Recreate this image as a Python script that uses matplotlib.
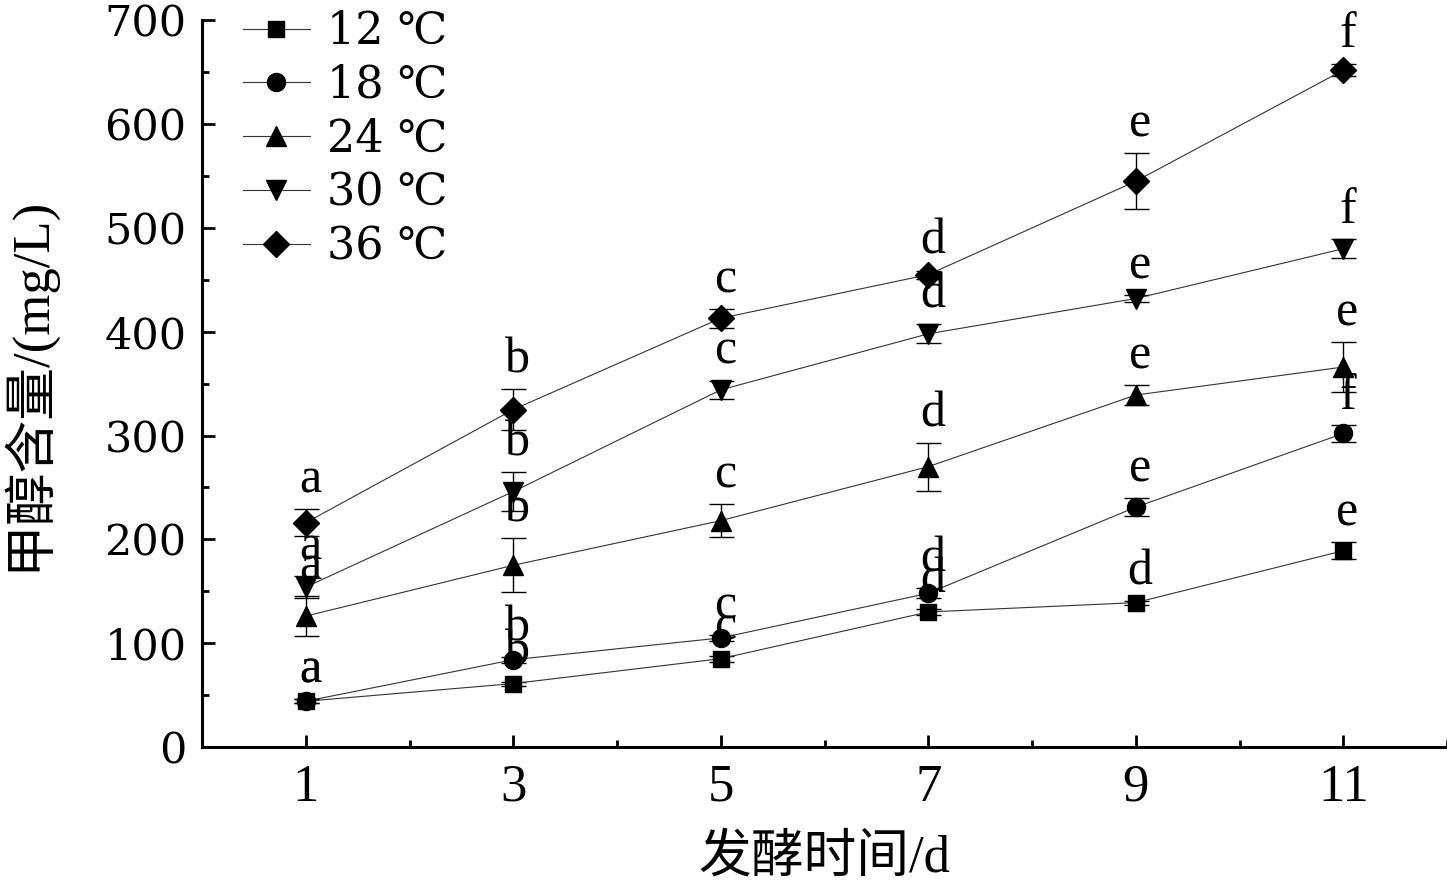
import numpy as np
import matplotlib.pyplot as plt
from matplotlib.ticker import MultipleLocator

# -----------------------------
# Data
# -----------------------------

days = [1, 3, 5, 7, 9, 11]

labels = ["12 ℃", "18 ℃", "24 ℃", "30 ℃", "36 ℃"]
markers = ["s", "o", "^", "v", "D"]
msizes = [12, 13, 15, 15, 13]

t12 = [44, 61, 85, 130, 139, 189]
t18 = [44, 84, 105, 148, 231, 302]
t24 = [126, 175, 218, 270, 339, 366]
t30 = [154, 246, 344, 398, 432, 480]
t36 = [216, 325, 413, 455, 545, 652]

e12 = [2, 2, 3, 3, 2, 8]
e18 = [2, 3, 3, 5, 9, 8]
e24 = [19, 26, 16, 23, 10, 24]
e30 = [11, 19, 9, 9, 3, 9]
e36 = [13, 20, 9, 4, 27, 6]

s12 = ["a", "b", "c", "d", "d", "e"]
s18 = ["a", "b", "c", "d", "e", "f"]
s24 = ["a", "b", "c", "d", "e", "e"]
s30 = ["a", "b", "c", "d", "e", "f"]
s36 = ["a", "b", "c", "d", "e", "f"]

values = [t12, t18, t24, t30, t36]
errors = [e12, e18, e24, e30, e36]
letters = [s12, s18, s24, s30, s36]

# -----------------------------
# Plot
# -----------------------------

serif = ["Liberation Serif", "Noto Sans CJK SC"]
wide = ["DejaVu Serif", "Noto Sans CJK SC"]
plt.rcParams["font.family"] = serif

fig = plt.figure(figsize=(14.47, 8.86), dpi=100)
ax = fig.add_axes([0.1396, 0.157, 0.8604, 0.820])

for y, err, lab, mk, ms in zip(values, errors, labels, markers, msizes):
    ax.errorbar(
        days, y, yerr=err, fmt="none",
        ecolor="black", elinewidth=1.0, capsize=9, capthick=1.0,
    )
    ax.plot(
        days, y, color="#333333", linewidth=0.8,
        marker=mk, markersize=ms,
        markerfacecolor="black", markeredgecolor="black",
        label=lab,
    )

for y, err, sig in zip(values, errors, letters):
    for xi, yi, ei, s in zip(days, y, err, sig):
        ax.annotate(
            s, (xi, yi + ei), xytext=(3, 4), textcoords="offset points",
            ha="center", va="bottom", fontsize=36,
        )

ax.set_xlim(0, 12)
ax.set_ylim(0, 700)
ax.set_xticks(days)
ax.xaxis.set_minor_locator(MultipleLocator(1))
ax.yaxis.set_major_locator(MultipleLocator(100))
ax.yaxis.set_minor_locator(MultipleLocator(50))

for side in ["top", "right"]:
    ax.spines[side].set_visible(False)
for side in ["left", "bottom"]:
    ax.spines[side].set_linewidth(2.2)

ax.tick_params(which="major", direction="in", length=9, width=2.0)
ax.tick_params(which="minor", direction="in", length=5, width=2.0)
ax.tick_params(axis="x", labelsize=38, pad=12)
ax.tick_params(axis="y", pad=11)
for t in ax.get_yticklabels():
    t.set_fontfamily(wide)
    t.set_fontsize(31)

ax.set_xlabel("发酵时间/d", fontsize=38, labelpad=16)
ax.set_ylabel("甲醇含量/(mg/L)", fontsize=38, labelpad=36)

leg = ax.legend(
    loc="upper left", bbox_to_anchor=(0.015, 1.045), frameon=False,
    prop={"family": wide, "size": 32}, handlelength=1.5, handletextpad=0.4,
    labelspacing=0.24, borderpad=0,
)

fig.savefig("out.png", dpi=100)
